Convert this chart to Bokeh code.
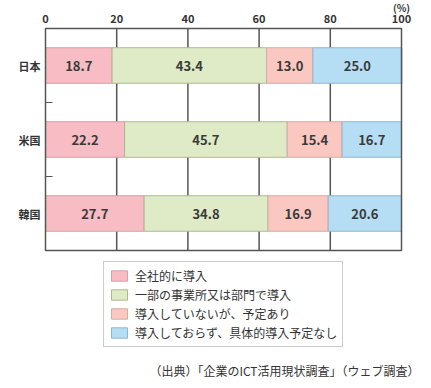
from bokeh.plotting import figure
from bokeh.models import ColumnDataSource, Legend, LegendItem, Label, Range1d
from bokeh.embed import file_html
from bokeh.resources import INLINE
from bokeh.core.properties import value

countries = ["日本", "米国", "韓国"]
series_names = ["全社的に導入", "一部の事業所又は部門で導入", "導入していないが、予定あり", "導入しておらず、具体的導入予定なし"]
v_all = [18.7, 22.2, 27.7]
v_part = [43.4, 45.7, 34.8]
v_plan = [13.0, 15.4, 16.9]
v_none = [25.0, 16.7, 20.6]
x_ticks = [0, 20, 40, 60, 80, 100]
unit_label = "(%)"
source_text = "（出典）「企業のICT活用現状調査」（ウェブ調査）"

fills = ["#f8bcc4", "#dfebc6", "#fbc8c1", "#b5ddf4"]
borders = ["#d99ea6", "#aab98f", "#d9aaa3", "#8db7cf"]
FONT = "Noto Sans CJK JP"
GRID = "#555555"

# layout constants (pixels)
W, H = 423, 380
BOX_L, BOX_R, BOX_T, BOX_B = 45, 401, 28, 250

n = len(countries)
ypos = [n - i - 0.5 for i in range(n)]
boundaries = [float(i) for i in range(1, n)]
series = [v_all, v_part, v_plan, v_none]

xmin, xmax = x_ticks[0], x_ticks[-1]
px_per_x = (BOX_R - BOX_L) / (xmax - xmin)
px_per_y = (BOX_B - BOX_T) / n
x_start = xmin - BOX_L / px_per_x
x_end = xmax + (W - BOX_R) / px_per_x
y_start = -(H - BOX_B) / px_per_y
y_end = n + BOX_T / px_per_y

p = figure(width=W, height=H, output_backend="svg", toolbar_location=None,
           x_range=Range1d(x_start, x_end), y_range=Range1d(y_start, y_end),
           x_axis_location=None, y_axis_location=None,
           min_border_left=0, min_border_right=0, min_border_top=0, min_border_bottom=0)
p.outline_line_color = None
p.background_fill_color = "white"
p.border_fill_color = "white"
p.xgrid.grid_line_color = None
p.ygrid.grid_line_color = None

# vertical grid lines inside the box
inner = x_ticks[1:-1]
p.segment(x0=inner, y0=[0] * len(inner), x1=inner, y1=[n] * len(inner),
          line_color=GRID, line_width=1.5)

renderers = []
left = [0.0] * n
for k, vals in enumerate(series):
    right = [l + v for l, v in zip(left, vals)]
    mid = [(l + r) / 2 for l, r in zip(left, right)]
    src = ColumnDataSource(dict(y=ypos, left=left, right=right, mid=mid,
                                lab=["%.1f" % v for v in vals]))
    r = p.hbar(y="y", left="left", right="right", height=0.48, source=src,
               fill_color=fills[k], line_color=borders[k], line_width=1)
    renderers.append(r)
    p.text(x="mid", y="y", text="lab", source=src, text_align="center", text_baseline="middle",
           text_font=value(FONT), text_font_style="bold", text_font_size="13px",
           text_color="#3a3a3a")
    left = right

# box
p.quad(left=[xmin], right=[xmax], bottom=[0], top=[n], fill_color=None,
       line_color=GRID, line_width=1.5)

# small inward ticks between categories
p.ray(x=[xmin] * len(boundaries), y=boundaries, length=7, length_units="screen", angle=0,
      line_color=GRID, line_width=1.2)

# x tick labels on top
p.text(x=x_ticks, y=[n] * len(x_ticks), text=[str(t) for t in x_ticks], y_offset=-10,
       text_align="center", text_baseline="middle", text_font=value(FONT),
       text_font_style="bold", text_font_size="11px", text_color="#333333")
p.text(x=[xmax], y=[n], text=[unit_label], y_offset=-21,
       text_align="center", text_baseline="middle", text_font=value(FONT),
       text_font_style="bold", text_font_size="10px", text_color="#333333")

# category labels
p.text(x=[xmin] * n, y=ypos, text=countries, x_offset=-5,
       text_align="right", text_baseline="middle", text_font=value(FONT),
       text_font_style="bold", text_font_size="11px", text_color="#333333")

legend = Legend(items=[LegendItem(label=s, renderers=[r]) for s, r in zip(series_names, renderers)],
                location=(103, H - 347))
legend.label_text_font = FONT
legend.label_text_font_size = "12px"
legend.label_text_color = "#333333"
legend.glyph_width = 20
legend.glyph_height = 13
legend.label_height = 13
legend.spacing = 2
legend.padding = 5
legend.margin = 0
legend.label_standoff = 6
legend.border_line_color = "#999999"
legend.border_line_width = 1
legend.background_fill_alpha = 1
p.add_layout(legend, "center")

p.add_layout(Label(x=419, y=H - 370, x_units="screen", y_units="screen",
                   text=source_text, text_align="right", text_baseline="middle",
                   text_font=FONT, text_font_size="12px", text_color="#333333"))

open("out.html", "w").write(file_html(p, INLINE))
